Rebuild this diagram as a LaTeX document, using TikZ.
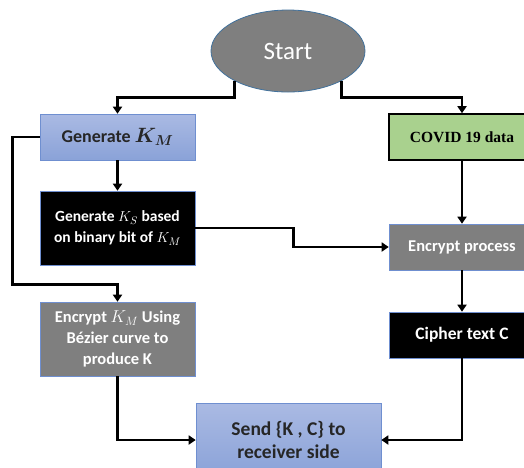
\documentclass[tikz,border=0pt]{standalone}
\usepackage{fontspec}
\usepackage{amsmath}
\usetikzlibrary{shapes.geometric,arrows.meta}
\newfontfamily\calibri{Carlito}
\newfontfamily\bookserif{Liberation Serif}
\definecolor{boxgray}{HTML}{7F7F7F}
\definecolor{boxedge}{HTML}{6F8FD0}
\definecolor{bluetop}{HTML}{AABAE3}
\definecolor{bluebot}{HTML}{8AA2D8}
\definecolor{covidgreen}{HTML}{A9D18E}
\definecolor{startedge}{HTML}{41719C}
\definecolor{darktext}{HTML}{262626}

\begin{document}
\begin{tikzpicture}[x=1pt,y=-1pt,
    box/.style={draw=boxedge, line width=0.6pt, minimum width=155pt,
      align=center, inner sep=2pt,
      font=\calibri\bfseries\fontsize{16.5}{21}\selectfont},
    bluebox/.style={box, top color=bluetop, bottom color=bluebot,
      text=darktext},
    darkbox/.style={box, fill=black, text=white},
    graybox/.style={box, fill=boxgray, text=white},
    arr/.style={line width=2.6pt, -{Triangle[width=9pt,length=7pt]}}]
  \useasboundingbox (0,0) rectangle (524,467);
  \clip (0,0) rectangle (524,467);

  % Inicio.
  \node[ellipse, draw=startedge, fill=boxgray, line width=0.8pt,
    minimum width=154pt, minimum height=82pt, text=white,
    font=\calibri\fontsize{25}{30}\selectfont] (start) at (288,51) {Start};

  % Ramo da chave.
  \node[bluebox, minimum height=46pt,
    font=\calibri\bfseries\fontsize{18}{21}\selectfont] (genkm) at (117.5,137)
    {Generate {\fontsize{20}{21}\selectfont$\boldsymbol{K_M}$}};
  \node[darkbox, minimum height=74pt,
    font=\calibri\bfseries\fontsize{15.5}{21}\selectfont] (genks) at (117.5,228)
    {Generate $K_S$ based\\on binary bit of $K_M$};
  \node[graybox, minimum height=74pt] (enckm) at (117.5,339)
    {Encrypt $K_M$ Using\\B\'ezier curve to\\produce K};

  % Ramo dos dados.
  \node[draw=black, line width=1.6pt, fill=covidgreen, minimum width=146pt,
    minimum height=46pt, font=\bookserif\bfseries\fontsize{15.5}{18}\selectfont]
    (covid) at (462,137) {COVID 19 data};
  \node[graybox, minimum width=146pt, minimum height=46pt]
    (encproc) at (462,247) {Encrypt process};
  \node[darkbox, minimum width=146pt, minimum height=46pt,
    font=\calibri\bfseries\fontsize{17.5}{21}\selectfont]
    (cipher) at (462,335) {Cipher text C};

  % Envio.
  \node[bluebox, minimum width=185pt, minimum height=74pt,
    font=\calibri\bfseries\fontsize{19.5}{23}\selectfont]
    (send) at (288.5,440) {Send \{K , C\} to\\receiver side};

  % Ligacoes.
  \draw[arr] (start.209) -- ++(0,17) -| (genkm.north);
  \draw[arr] (start.331) -- ++(0,17) -| (covid.north);
  \draw[arr] (genkm) -- (genks);
  \draw[arr] (genkm.west) -- ++(-27,0) |- ([yshift=17pt]enckm.north)
    -- (enckm.north);
  \draw[arr] (genks.east) -- ++(98,0) |- (encproc.west);
  \draw[arr] (covid) -- (encproc);
  \draw[arr] (encproc) -- (cipher);
  \draw[arr] (enckm.south) |- (send.west);
  \draw[arr] (cipher.south) |- (send.east);
\end{tikzpicture}
\end{document}
